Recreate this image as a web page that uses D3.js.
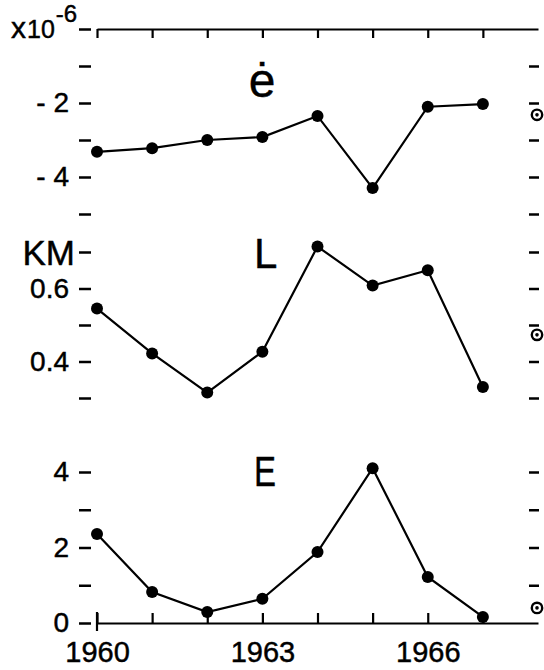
<!DOCTYPE html>
<html>
<head>
<meta charset="utf-8">
<script src="https://cdn.jsdelivr.net/npm/d3@7"></script>
<style>
  html, body { margin: 0; padding: 0; background: #fff; }
  svg { display: block; }
  text { font-family: "Liberation Sans", Arial, sans-serif; fill: #000; stroke: #000; stroke-width: 0.45px; }
</style>
</head>
<body>
<svg id="chart" width="544" height="670"></svg>
<script>
// ---------- data ----------
const years = [1960, 1961, 1962, 1963, 1964, 1965, 1966, 1967];
const eDot = [-3.32, -3.22, -3.0, -2.92, -2.35, -4.3, -2.1, -2.03];   // x10^-6
const L    = [0.545, 0.422, 0.315, 0.427, 0.715, 0.608, 0.65, 0.33];  // KM
const E    = [2.36, 0.82, 0.29, 0.64, 1.88, 4.1, 1.22, 0.16];
const xTickLabels = [1960, 1963, 1966];
const eDotTicks = [0, -1, -2, -3, -4, -5];
const eDotTickLabels = ["", "", "- 2", "", "- 4", ""];
const LTicks = [0.7, 0.6, 0.5, 0.4, 0.3];
const LTickLabels = ["KM", "0.6", "", "0.4", ""];
const ETicks = [4, 3, 2, 1, 0];
const ETickLabels = ["4", "", "2", "", "0"];
const sunMarks = [-2.32, 0.473, 0.4];   // ⊙ reference values on right edge

// ---------- layout ----------
const svg = d3.select("#chart");
const x = d3.scaleLinear().domain([1960, 1968]).range([97, 538]);
const yTop = d3.scaleLinear().domain([0, -5]).range([29, 214]);
const yMid = d3.scaleLinear().domain([0.7, 0.3]).range([252, 398]);
const yBot = d3.scaleLinear().domain([4, 0]).range([472, 623]);

// top x axis
const topAxis = svg.append("g").attr("transform", "translate(0,29)")
  .call(d3.axisBottom(x).tickValues(years).tickSize(9).tickSizeOuter(0).tickFormat(""));
// bottom x axis
const botAxis = svg.append("g").attr("transform", "translate(0,623)")
  .call(d3.axisTop(x).tickValues(years).tickSize(10).tickSizeOuter(0).tickFormat(""));
svg.append("g").attr("transform", "translate(0,623)")
  .call(d3.axisBottom(x).tickValues(xTickLabels).tickSize(0).tickPadding(18).tickFormat(d3.format("d")))
  .call(g => g.select(".domain").remove())
  .selectAll("text").attr("font-size", 29).attr("font-family", "Liberation Sans, Arial, sans-serif");
svg.append("line")
  .attr("x1", x(1960)).attr("x2", x(1960)).attr("y1", 612).attr("y2", 631)
  .attr("stroke", "#000").attr("stroke-width", 2.2);

[topAxis, botAxis].forEach(g => {
  g.select(".domain").attr("stroke-width", 2.2);
  g.selectAll(".tick line").attr("stroke-width", 2.2);
});

function leftAxis(scale, ticks, labels) {
  const g = svg.append("g").attr("transform", "translate(91,0)")
    .call(d3.axisLeft(scale).tickValues(ticks).tickSize(12).tickPadding(10)
      .tickFormat((d, i) => labels[i]));
  g.select(".domain").remove();
  g.selectAll(".tick line").attr("stroke-width", 2.5);
  g.selectAll("text").attr("font-size", 28).attr("font-family", "Liberation Sans, Arial, sans-serif");
  return g;
}
function rightAxis(scale, ticks) {
  const g = svg.append("g").attr("transform", "translate(539,0)")
    .call(d3.axisLeft(scale).tickValues(ticks).tickSize(10).tickFormat(""));
  g.select(".domain").remove();
  g.selectAll(".tick line").attr("stroke-width", 2.5);
}

leftAxis(yTop, eDotTicks, eDotTickLabels);
const midL = leftAxis(yMid, LTicks, LTickLabels);
midL.selectAll("text").filter(d => d === 0.7)
  .attr("font-size", 35).attr("dy", "0.36em").attr("dx", 6);
leftAxis(yBot, ETicks, ETickLabels);

rightAxis(yTop, eDotTicks.filter(d => d !== 0));
rightAxis(yMid, LTicks);
rightAxis(yBot, ETicks.filter(d => d !== 0));

// x10^-6
const mult = svg.append("text").attr("x", 11).attr("y", 38);
mult.append("tspan").attr("font-size", 30).text("x");
mult.append("tspan").attr("font-size", 25).attr("dx", 1).text("10");
mult.append("tspan").attr("font-size", 24).attr("dy", -16).attr("dx", 1).text("-6");

// ⊙ marks on right edge
const scales = [yTop, yMid, yBot];
sunMarks.forEach((v, i) => {
  const cy = scales[i](v);
  svg.append("circle").attr("cx", 537).attr("cy", cy).attr("r", 5.2)
    .attr("fill", "none").attr("stroke", "#000").attr("stroke-width", 2.4);
  svg.append("circle").attr("cx", 537).attr("cy", cy).attr("r", 1.8).attr("fill", "#000");
});

// series
function series(scale, values) {
  const pts = years.map((yr, i) => [yr, values[i]]);
  svg.append("path").datum(pts)
    .attr("fill", "none").attr("stroke", "#000").attr("stroke-width", 2.2)
    .attr("d", d3.line().x(d => x(d[0])).y(d => scale(d[1])));
  svg.append("g").selectAll("circle").data(pts).join("circle")
    .attr("cx", d => x(d[0])).attr("cy", d => scale(d[1])).attr("r", 6).attr("fill", "#000");
}
series(yTop, eDot);
series(yMid, L);
series(yBot, E);

// panel labels
svg.append("text").attr("x", 262).attr("y", 97).attr("text-anchor", "middle")
  .attr("font-size", 48).style("stroke-width", "0.4px").text("ė");
svg.append("text").attr("x", 254).attr("y", 268).attr("font-size", 42).style("stroke-width", "0.4px").text("L");
svg.append("text").attr("x", 254).attr("y", 486).attr("font-size", 42).style("stroke-width", "0.4px")
  .attr("textLength", 22).attr("lengthAdjust", "spacingAndGlyphs").text("E");
</script>
</body>
</html>
